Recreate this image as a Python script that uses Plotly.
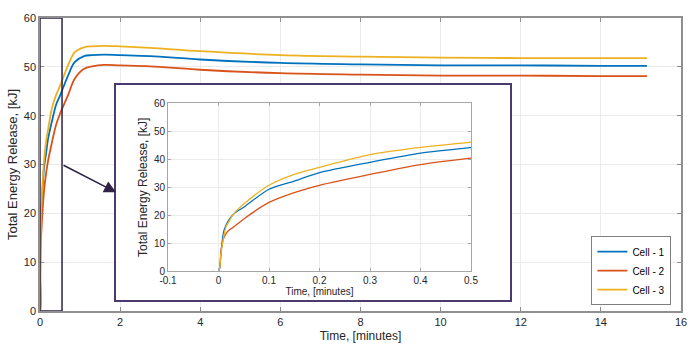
import plotly.graph_objects as go

# ---- data ----
time_min = [-0.012, 0.0, 0.005, 0.01, 0.015, 0.02, 0.03, 0.05, 0.1, 0.15, 0.2, 0.3, 0.4, 0.5,
            0.7, 0.87, 1.1, 1.3, 1.6, 2.0, 2.75, 4, 6, 8, 10, 12, 14, 15.15]
cell_1 = [0, 0, 7, 14, 16.5, 18.2, 20.5, 22.9, 29.3, 32.2, 35.2, 38.9, 42.2, 44.1,
          48.2, 51.0, 52.2, 52.4, 52.5, 52.4, 52.2, 51.5, 50.8, 50.5, 50.3, 50.3, 50.2, 50.2]
cell_2 = [0, 0, 7.5, 11.7, 13.5, 14.6, 15.8, 18.7, 24.6, 28.1, 30.7, 34.6, 38.1, 40.4,
          44.2, 47.6, 49.6, 50.1, 50.4, 50.3, 50.1, 49.4, 48.7, 48.4, 48.2, 48.2, 48.1, 48.1]
cell_3 = [0, 0, 6.5, 12, 16, 17.6, 20.5, 24, 30.7, 34.6, 37.1, 41.6, 44.2, 46.1,
          50.3, 53.0, 54.0, 54.2, 54.3, 54.2, 53.9, 53.2, 52.4, 52.1, 51.9, 51.8, 51.8, 51.8]
names = ["Cell - 1", "Cell - 2", "Cell - 3"]
colors = ["#0072BD", "#D95319", "#EDB120"]
series = [cell_1, cell_2, cell_3]

main_xticks = [0, 2, 4, 6, 8, 10, 12, 14, 16]
main_yticks = [0, 10, 20, 30, 40, 50, 60]
inset_xticks = [-0.1, 0, 0.1, 0.2, 0.3, 0.4, 0.5]
inset_xlabels = ["-0.1", "0", "0.1", "0.2", "0.3", "0.4", "0.5"]
inset_yticks = [0, 10, 20, 30, 40, 50, 60]

FONT = "Liberation Sans, Arial, sans-serif"
TXT = "#262626"
AX = "#8f8f8f"
GRID = "#ebebeb"
PURPLE = "#4a3a6e"

fig = go.Figure()
for name, col, ys in zip(names, colors, series):
    fig.add_trace(go.Scatter(x=time_min, y=ys, mode="lines", name=name,
                             line=dict(color=col, width=1.8, shape="spline", smoothing=1.0),
                             xaxis="x", yaxis="y"))
# inset traces
for name, col, ys in zip(names, colors, series):
    fig.add_trace(go.Scatter(x=time_min, y=ys, mode="lines", name=name, showlegend=False,
                             line=dict(color=col, width=1.3, shape="spline", smoothing=0.8),
                             xaxis="x3", yaxis="y3"))

W, H = 700, 353
ml, mr, mt, mb = 40, 19, 17, 40
pw, ph = W - ml - mr, H - mt - mb

def px2x(p):
    return (p - ml) / pw

def py2y(p):
    return (H - mb - p) / ph

axis_common = dict(showline=True, mirror="ticks", linecolor=AX, linewidth=1.5,
                   ticks="inside", ticklen=4, tickcolor=AX, showgrid=True, gridcolor=GRID,
                   gridwidth=1, zeroline=False, tickfont=dict(size=11, color=TXT, family=FONT))

fig.update_layout(
    width=W, height=H, margin=dict(l=ml, r=mr, t=mt, b=mb),
    paper_bgcolor="white", plot_bgcolor="white",
    font=dict(family=FONT, color=TXT, size=11),
    xaxis=dict(range=[0, 16], tickvals=main_xticks, domain=[0, 1],
               title=dict(text="Time, [minutes]", font=dict(size=12), standoff=5), **axis_common),
    yaxis=dict(range=[0, 60], tickvals=main_yticks, domain=[0, 1],
               title=dict(text="Total Energy Release, [kJ]", font=dict(size=13), standoff=3), **axis_common),
    # inset frame box (white bg covering main grid)
    xaxis2=dict(domain=[px2x(116), px2x(510)], range=[0, 1], anchor="y2",
                showline=True, mirror=True, linecolor=PURPLE, linewidth=1.5,
                showgrid=False, zeroline=False, showticklabels=False, ticks=""),
    yaxis2=dict(domain=[py2y(302), py2y(85)], range=[0, 1], anchor="x2",
                showline=True, mirror=True, linecolor=PURPLE, linewidth=1.5,
                showgrid=False, zeroline=False, showticklabels=False, ticks=""),
    xaxis3=dict(domain=[px2x(168), px2x(471)], range=[-0.1, 0.5], anchor="y3",
                tickvals=inset_xticks, ticktext=inset_xlabels,
                showline=True, mirror="ticks", linecolor="#a6a6a6", linewidth=1,
                ticks="inside", ticklen=3, tickcolor="#a6a6a6", showgrid=True, gridcolor=GRID,
                zeroline=False, tickfont=dict(size=10, color=TXT, family=FONT),
                title=dict(text="Time, [minutes]", font=dict(size=10), standoff=2)),
    yaxis3=dict(domain=[py2y(273), py2y(103)], range=[0, 60], anchor="x3",
                tickvals=inset_yticks,
                showline=True, mirror="ticks", linecolor="#a6a6a6", linewidth=1,
                ticks="inside", ticklen=3, tickcolor="#a6a6a6", showgrid=True, gridcolor=GRID,
                zeroline=False, tickfont=dict(size=10, color=TXT, family=FONT),
                title=dict(text="Total Energy Release, [kJ]", font=dict(size=12), standoff=3)),
    legend=dict(x=0.985, y=0.02, xanchor="right", yanchor="bottom",
                bgcolor="white", bordercolor="#7f7f7f", borderwidth=1,
                font=dict(size=10, color="#000000", family=FONT),
                itemwidth=30, tracegroupgap=0),
    showlegend=True,
)

# dummy invisible trace so subplot x2y2 exists
fig.add_trace(go.Scatter(x=[0.5], y=[0.5], mode="markers", marker=dict(opacity=0),
                         showlegend=False, hoverinfo="skip", xaxis="x2", yaxis="y2"))

# zoom rectangle on main axes
fig.add_shape(type="rect", xref="x", yref="y", x0=0, x1=0.55, y0=0, y1=60,
              line=dict(color="#2e2346", width=1.5), layer="above")
# arrow from rectangle to inset
fig.add_annotation(x=1.9, y=24.3, ax=0.55, ay=30, xref="x", yref="y", axref="x", ayref="y",
                   text="", showarrow=True, arrowhead=2, arrowsize=1.6, arrowwidth=1.5,
                   arrowcolor="#2e2346")

fig.write_html("out.html")
